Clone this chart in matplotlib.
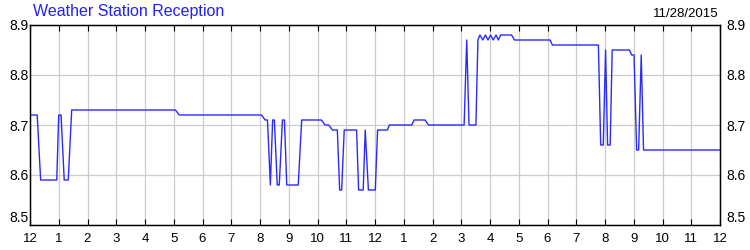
import matplotlib
matplotlib.use('Agg')
import matplotlib.pyplot as plt

# ---- data: hours since midnight and reception level -------------------
hours = [0.00, 0.25, 0.37, 0.93, 1.00, 1.08, 1.19, 1.33, 1.45, 5.06,
         5.19, 8.05, 8.18, 8.26, 8.36, 8.44, 8.50, 8.60, 8.67, 8.78,
         8.85, 8.93, 9.33, 9.45, 10.14, 10.26, 10.39, 10.52, 10.69, 10.77,
         10.84, 10.93, 11.36, 11.43, 11.59, 11.66, 11.77, 12.01, 12.09, 12.43,
         12.50, 13.28, 13.36, 13.74, 13.86, 15.10, 15.19, 15.27, 15.51, 15.58,
         15.65, 15.75, 15.84, 15.93, 16.02, 16.11, 16.21, 16.29, 16.37, 16.75,
         16.85, 18.09, 18.17, 19.77, 19.85, 19.94, 20.02, 20.09, 20.18, 20.25,
         20.85, 20.93, 21.01, 21.10, 21.17, 21.26, 21.34, 24.00]
level = [8.72, 8.72, 8.59, 8.59, 8.72, 8.72, 8.59, 8.59, 8.73, 8.73,
         8.72, 8.72, 8.71, 8.71, 8.58, 8.71, 8.71, 8.58, 8.58, 8.71,
         8.71, 8.58, 8.58, 8.71, 8.71, 8.70, 8.70, 8.69, 8.69, 8.57,
         8.57, 8.69, 8.69, 8.57, 8.57, 8.69, 8.57, 8.57, 8.69, 8.69,
         8.70, 8.70, 8.71, 8.71, 8.70, 8.70, 8.87, 8.70, 8.70, 8.87,
         8.88, 8.87, 8.88, 8.87, 8.88, 8.87, 8.88, 8.87, 8.88, 8.88,
         8.87, 8.87, 8.86, 8.86, 8.66, 8.66, 8.85, 8.66, 8.66, 8.85,
         8.85, 8.84, 8.84, 8.65, 8.65, 8.84, 8.65, 8.65]

x_ticks = list(range(0, 25))
x_labels = ['12'] + [str(h) for h in range(1, 12)] + ['12'] + \
           [str(h) for h in range(1, 12)] + ['12']
y_ticks = [8.5, 8.6, 8.7, 8.8, 8.9]
y_labels = ['8.5', '8.6', '8.7', '8.8', '8.9']

TITLE = 'Weather Station Reception'
DATE = '11/28/2015'

plt.rcParams['font.family'] = ['Liberation Sans', 'DejaVu Sans']

fig = plt.figure(figsize=(7.5, 2.5), dpi=100, facecolor='white')
ax = fig.add_axes([0.04, 0.10, 0.92, 0.80])

ax.plot(hours, level, color='#2a2aff', linewidth=1.0, zorder=3)

ax.set_xlim(0, 24)
ax.set_ylim(8.5, 8.9)
ax.set_xticks(x_ticks)
ax.set_xticklabels(x_labels, fontsize=9.5)
ax.set_yticks(y_ticks)
ax.set_yticklabels(y_labels, fontsize=10)

ax.grid(True, color='#cccccc', linewidth=0.9, zorder=0)
for s in ax.spines.values():
    s.set_color('black')
    s.set_linewidth(1.0)

ax.tick_params(axis='x', direction='in', length=4, width=0.8,
               top=True, bottom=True, pad=6, colors='black')
ax.tick_params(axis='y', length=0, pad=1, colors='black')

# right-hand copy of the y labels, a bit further from the frame
ax2 = ax.twinx()
ax2.set_ylim(ax.get_ylim())
ax2.set_yticks(y_ticks)
ax2.set_yticklabels(y_labels, fontsize=10)
ax2.tick_params(axis='y', length=0, pad=4.5, colors='black')
for a in (ax, ax2):
    a.get_yticklabels()[0].set_verticalalignment('bottom')

fig.text(0.044, 0.985, TITLE, color='#2020ff', fontsize=11.5,
         ha='left', va='top')
fig.text(0.958, 0.968, DATE, color='black', fontsize=9.5,
         ha='right', va='top')

fig.savefig('out.png', dpi=100, facecolor='white')
